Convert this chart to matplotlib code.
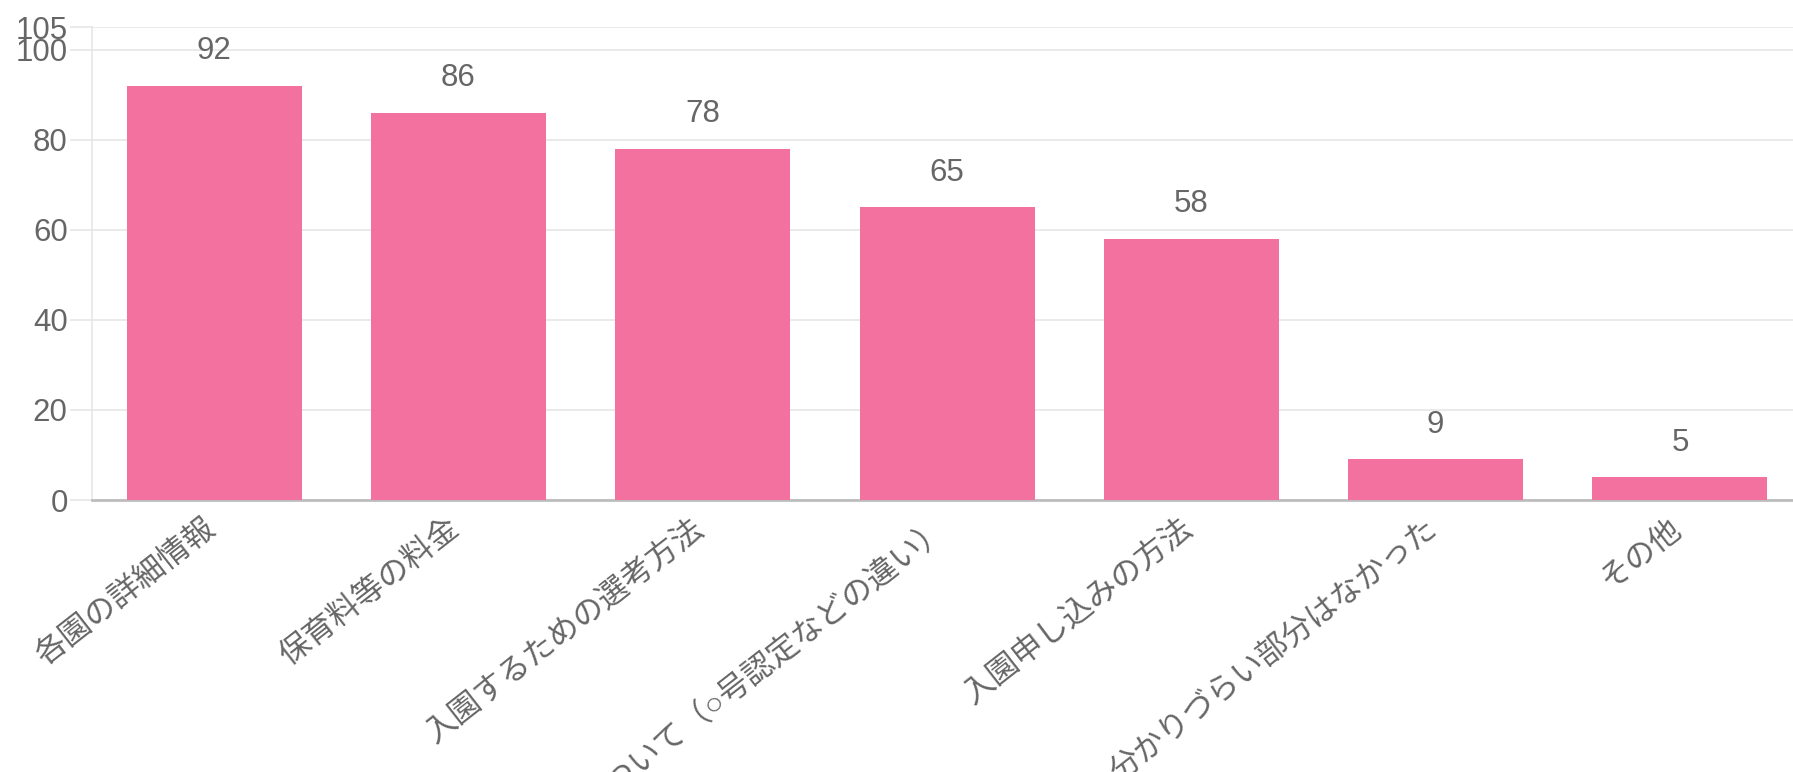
import matplotlib.pyplot as plt
import matplotlib.transforms as mtransforms
import numpy as np

plt.rcParams['font.family'] = ['Liberation Sans', 'Noto Sans CJK JP']

categories = ['各園の詳細情報', '保育料等の料金', '入園するための選考方法',
              '認定区分について（○号認定などの違い）', '入園申し込みの方法',
              '分かりづらい部分はなかった', 'その他']
values = [92, 86, 78, 65, 58, 9, 5]
yticks = [0, 20, 40, 60, 80, 100, 105]

bar_color = '#f2719f'
text_color = '#666666'
grid_color = '#e6e6e6'

fig = plt.figure(figsize=(17.93, 7.72), dpi=100)
ax = fig.add_axes([92 / 1793, (772 - 500) / 772, 1701 / 1793, 473 / 772])

x = np.arange(len(categories))
bars = ax.bar(x, values, width=0.716, color=bar_color, zorder=3)

for xi, v in zip(x, values):
    ax.annotate(str(v), (xi, v), xytext=(0, 14), textcoords='offset points',
                ha='center', va='bottom', fontsize=22.5, color=text_color)

ax.set_xlim(-0.5, -0.5 + 1701 / 244.3)
ax.set_ylim(0, 105)
ax.set_yticks(yticks)
ax.set_yticklabels([str(t) for t in yticks], fontsize=22.5, color=text_color)
ax.tick_params(axis='y', length=16, color=grid_color, width=1.2, pad=1.5)

ax.set_xticks(x)
ax.set_xticklabels(categories, rotation=38, ha='right', va='top',
                   rotation_mode='anchor', fontsize=22.5, color=text_color)
ax.tick_params(axis='x', length=0, pad=10)
# nudge rotated labels a bit to the left
shift = mtransforms.ScaledTranslation(-0.11, 0, fig.dpi_scale_trans)
for lab in ax.get_xticklabels():
    lab.set_transform(lab.get_transform() + shift)

ax.grid(axis='y', color=grid_color, linewidth=1.2, zorder=0)
ax.set_axisbelow(True)
for s in ['top', 'right']:
    ax.spines[s].set_visible(False)
ax.spines['left'].set_color(grid_color)
ax.spines['left'].set_linewidth(1.2)
ax.spines['bottom'].set_color('#bdbdbd')
ax.spines['bottom'].set_linewidth(2)

fig.savefig('out.png', dpi=100, facecolor='white')
